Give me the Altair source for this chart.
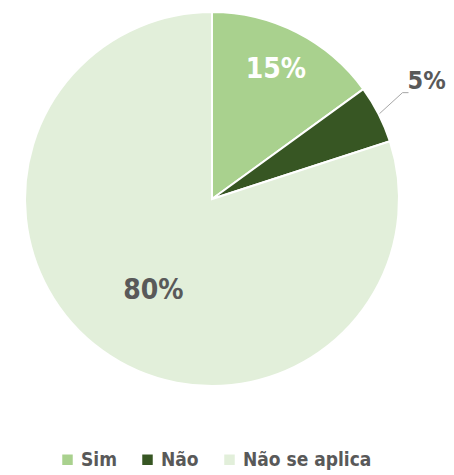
import altair as alt
import pandas as pd

categories = ["Sim", "Não", "Não se aplica"]
values = [15, 5, 80]
labels = ["15%", "5%", "80%"]
colors = ["#a9d18e", "#375623", "#e2efda"]

df = pd.DataFrame({"cat": categories, "value": values, "label": labels})

FONT = "DejaVu Sans Condensed, Roboto, sans-serif"
CX, CY, R = 204, 191, 187

base = alt.Chart(df).transform_window(
    idx="row_number()"
)

theta = alt.Theta("value:Q", stack=True)
order = alt.Order("idx:Q", sort="ascending")

arcs = base.mark_arc(stroke="white", strokeWidth=2).encode(
    theta=theta,
    order=order,
    x=alt.value(CX),
    y=alt.value(CY),
    radius=alt.value(R),
    color=alt.Color(
        "cat:N",
        scale=alt.Scale(domain=categories, range=colors),
        legend=alt.Legend(
            title=None,
            orient="none",
            direction="horizontal",
            legendX=50,
            legendY=442,
            symbolType="square",
            symbolSize=110,
            symbolStrokeWidth=0,
            labelFont=FONT,
            labelFontSize=19,
            labelFontWeight="bold",
            labelColor="#595959",
            labelOffset=4,
            columnPadding=21,
        ),
    ),
)

def inner_label(cat, r, color, dx=0, dy=0):
    return base.mark_text(
        font=FONT, fontSize=28, fontWeight="bold", color=color,
        align="center", baseline="middle", dx=dx, dy=dy,
    ).encode(
        theta=theta,
        order=order,
        x=alt.value(CX),
        y=alt.value(CY),
        radius=alt.value(r),
        text=alt.condition(f"datum.cat == '{cat}'", "label:N", alt.value("")),
    )

lab_sim = inner_label("Sim", 145, "white", dx=-2)
lab_nsa = inner_label("Não se aplica", 110, "#595959", dx=6, dy=3)

ang = base.transform_joinaggregate(
    total="sum(value)"
).transform_window(
    cum="sum(value)", sort=[alt.SortField("idx")], frame=[None, 0]
).transform_filter(
    "datum.cat == 'Não'"
).transform_calculate(
    a="2*PI*(datum.cum - datum.value/2)/datum.total"
).transform_calculate(
    x1=f"{CX} + {R+1}*sin(datum.a)",
    y1=f"{CY} - {R+1}*cos(datum.a)",
).transform_calculate(
    x2="datum.x1 + 23",
    y2="datum.y1 - 21",
).transform_calculate(
    x3="datum.x2 + 6",
)

leader1 = ang.mark_rule(color="#a6a6a6", strokeWidth=1).encode(
    x=alt.X("x1:Q", scale=None), y=alt.Y("y1:Q", scale=None),
    x2="x2:Q", y2="y2:Q",
)
leader2 = ang.mark_rule(color="#a6a6a6", strokeWidth=1).encode(
    x=alt.X("x2:Q", scale=None), y=alt.Y("y2:Q", scale=None),
    x2="x3:Q", y2="y2:Q",
)
lab_nao = ang.transform_calculate(
    tx="datum.x3 - 1", ty="datum.y2 - 12"
).mark_text(
    font=FONT, fontSize=25, fontWeight="bold", color="#595959",
    align="left", baseline="middle",
).encode(
    x=alt.X("tx:Q", scale=None), y=alt.Y("ty:Q", scale=None), text="label:N",
)

chart = alt.layer(arcs, lab_sim, lab_nsa, leader1, leader2, lab_nao).properties(
    width=438, height=467, padding=0,
    autosize=alt.AutoSizeParams(type="none"),
).configure_view(stroke=None)

chart.save("out.html", embed_options={"renderer": "svg", "actions": False})
